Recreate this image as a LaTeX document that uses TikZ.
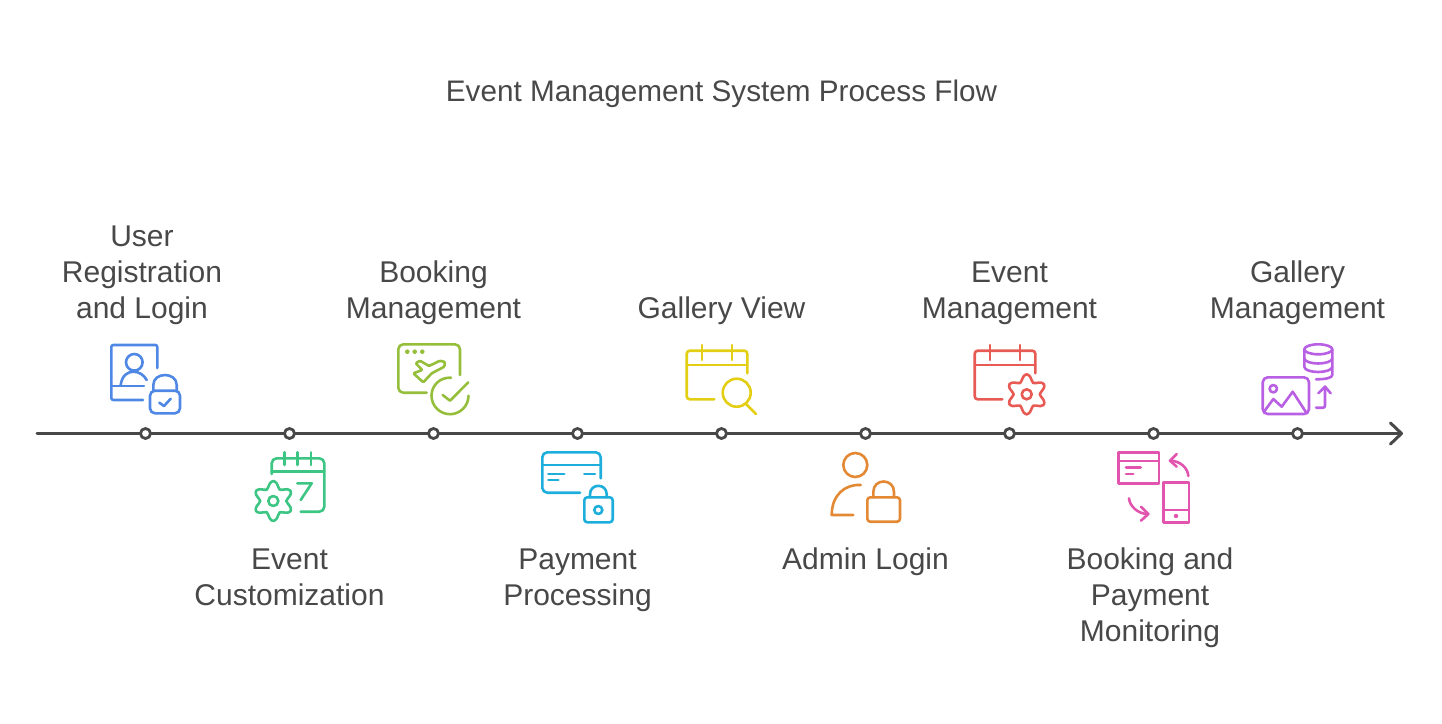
\documentclass[tikz,border=0pt]{standalone}
\usepackage{fontspec}
\setmainfont{Liberation Sans}
\usetikzlibrary{positioning,arrows.meta}
\definecolor{inkgray}{HTML}{484848}
\definecolor{iconblue}{HTML}{4F87E5}
\definecolor{icongreen}{HTML}{3CC583}
\definecolor{iconlime}{HTML}{95BF3B}
\definecolor{iconsky}{HTML}{1EAEDB}
\definecolor{iconyellow}{HTML}{E3CE14}
\definecolor{iconorange}{HTML}{E38833}
\definecolor{iconred}{HTML}{E85A54}
\definecolor{iconpink}{HTML}{E155AF}
\definecolor{iconpurple}{HTML}{B95FE3}
\tikzset{
    icon/.style={line width=2.6pt, line cap=round, line join=round, fill=none},
    calicon/.pic={
        \draw[rounded corners=3pt] (60.6,22.6) -- (60.6,0) -- (0,0) -- (0,48.6) -- (27.6,48.6);
        \draw (0,14.3) -- (60.6,14.3);
        \draw (15.3,-5.7) -- (15.3,9.3);
        \draw (45.3,-5.7) -- (45.3,9.3);
    },
    gearicon/.pic={
        \draw plot[domain=0:350, samples=36, smooth cycle] ({(16.5-3.5*cos(6*\x))*cos(\x)},{(16.5-3.5*cos(6*\x))*sin(\x)});
        \draw (0,0) circle[radius=5];
    }
}
\begin{document}
\begin{tikzpicture}[x=1pt, y=-1pt, node distance=134pt,
    dot/.style={circle, draw=inkgray, fill=white, line width=2.8pt, minimum size=10pt, inner sep=0pt, outer sep=0pt},
    steplabel/.style={text=inkgray, font=\fontsize{30}{36}\selectfont, align=center, inner sep=0pt, outer sep=0pt},
    titlelabel/.style={steplabel, font=\fontsize{29.7}{36}\selectfont},
    axisline/.style={draw=inkgray, line width=3pt, line cap=round, -{Straight Barb[length=11pt, width=21pt, line width=3pt, round]}}]

    \useasboundingbox (0,0) rectangle (1442,723);
    \node[titlelabel] (title) at (721.5,94.5) {\strut Event Management System Process Flow};

    % time line
    \coordinate (start) at (37,433.5);
    \coordinate (tip) at (1403,433.5);
    \draw[axisline] (start) -- (tip);

    \node[dot] (d1) at (145.5,433.5) {};
    \node[dot, right=of d1] (d2) {};
    \node[dot, right=of d2] (d3) {};
    \node[dot, right=of d3] (d4) {};
    \node[dot, right=of d4] (d5) {};
    \node[dot, right=of d5] (d6) {};
    \node[dot, right=of d6] (d7) {};
    \node[dot, right=of d7] (d8) {};
    \node[dot, right=of d8] (d9) {};

    % labels above and below the line
    \node[steplabel, above=99.5pt of d1, xshift=-3.5pt] (user) {User\\Registration\\and Login\strut};
    \node[steplabel, below=106pt of d2] (custom) {\strut Event\\Customization};
    \node[steplabel, above=99.5pt of d3] (booking) {Booking\\Management\strut};
    \node[steplabel, below=106pt of d4] (payment) {\strut Payment\\Processing};
    \node[steplabel, above=99.5pt of d5] (gallery) {Gallery View\strut};
    \node[steplabel, below=106pt of d6] (admin) {\strut Admin Login};
    \node[steplabel, above=99.5pt of d7] (event) {Event\\Management\strut};
    \node[steplabel, below=106pt of d8, xshift=-3.5pt] (monitor) {\strut Booking and\\Payment\\Monitoring};
    \node[steplabel, above=99.5pt of d9] (galmgmt) {Gallery\\Management\strut};

    % user and lock
    \begin{scope}[icon, draw=iconblue]
        \draw[rounded corners=2pt] (157.3,368) -- (157.3,345) -- (111.3,345) -- (111.3,400) -- (143,400);
        \draw (111.3,386) -- (144,386);
        \draw (134.3,362.3) circle[radius=8.3];
        \draw (120.7,385) .. controls (122,375) and (128,371.7) .. (133.5,371.7) .. controls (139,371.7) and (144,375) .. (146.7,380);
        \draw[rounded corners=5pt] (150,390.7) rectangle (180,413.3);
        \draw (153.3,390.7) -- (153.3,385) .. controls (153.3,371.7) and (176.7,371.7) .. (176.7,385) -- (176.7,390.7);
        \draw (159.3,402.7) -- (164,406) -- (170.7,398.7);
    \end{scope}

    % calendar with gear and seven
    \begin{scope}[icon, draw=icongreen]
        \draw[rounded corners=5pt] (271.7,474) -- (271.7,458.3) -- (324.3,458.3) -- (324.3,511.7) -- (300.7,511.7);
        \draw (271.7,471.7) -- (324.3,471.7);
        \draw (284.3,452.3) -- (284.3,465);
        \draw (297.7,452.3) -- (297.7,465);
        \draw (311,452.3) -- (311,465);
        \draw (297.3,483.3) -- (311.7,483.3) -- (300.7,500);
        \pic at (273.3,501) {gearicon};
    \end{scope}

    % window with plane and check
    \begin{scope}[icon, draw=iconlime]
        \draw[rounded corners=5pt] (460,375) -- (460,344.3) -- (398.3,344.3) -- (398.3,392.7) -- (426.7,392.7);
        \fill[iconlime] (407.3,351.7) circle[radius=2.3] (414.7,351.7) circle[radius=2.3] (422.3,351.7) circle[radius=2.3];
        \draw[rounded corners=1pt] (415.7,363.3) -- (420,360.7) -- (429,366) -- (440,360.7) -- (445,362) -- (444.3,366.7) -- (431.7,373.3) -- (423.3,382.3) -- (413.3,373.3) -- (422.3,370) -- cycle;
        \draw (451,377.7) .. controls (440,377) and (431.5,385.5) .. (431.5,395.7) .. controls (431.5,406) and (440,414.2) .. (450,414.2) .. controls (460,414.2) and (468.5,406) .. (468.5,395.7);
        \draw (442.7,395) -- (450,400.7) -- (468.3,382.3);
    \end{scope}

    % card and lock
    \begin{scope}[icon, draw=iconsky]
        \draw[rounded corners=5pt] (600.7,478.3) -- (600.7,452.3) -- (542.3,452.3) -- (542.3,492.7) -- (580,492.7);
        \draw (542.3,465) -- (600.7,465);
        \draw (548.3,474) -- (564.3,474);
        \draw (548.3,480) -- (558.3,480);
        \draw (584.3,474) -- (595,474);
        \draw[rounded corners=3pt] (584.3,497.3) rectangle (612.7,522.3);
        \draw (590,497.3) -- (590,494.3) .. controls (590,483) and (606.7,483) .. (606.7,494.3) -- (606.7,497.3);
        \draw (598.3,510) circle[radius=4];
    \end{scope}

    % calendar and magnifier
    \begin{scope}[icon, draw=iconyellow]
        \pic at (686.7,350.7) {calicon};
        \draw (736.7,392.7) circle[radius=14];
        \draw (746,404) -- (756,414);
    \end{scope}

    % person and lock
    \begin{scope}[icon, draw=iconorange]
        \draw (855.3,465) circle[radius=12];
        \draw (860.7,485) .. controls (845,484) and (831.7,495) .. (831.7,515) -- (853.3,515);
        \draw[rounded corners=3pt] (867.3,497.3) rectangle (900,521.7);
        \draw (873.3,497.3) -- (873.3,492) .. controls (873.3,478) and (894,478) .. (894,492) -- (894,497.3);
    \end{scope}

    % calendar and gear
    \begin{scope}[icon, draw=iconred]
        \pic at (974.7,350.7) {calicon};
        \pic at (1026.7,394.3) {gearicon};
    \end{scope}

    % window, phone and arrows
    \begin{scope}[icon, draw=iconpink]
        \draw (1118.3,452.3) rectangle (1159,483.3);
        \draw (1118.3,461) -- (1159,461);
        \draw (1126,467.3) -- (1140.7,467.3);
        \draw (1126,474) -- (1133.3,474);
        \draw (1163.3,482.7) rectangle (1189,522.3);
        \draw (1163.3,510) -- (1189,510);
        \fill[iconpink] (1176,516) circle[radius=2.2];
        \draw (1188.3,476) .. controls (1188,468) and (1180,461) .. (1170.7,460.7);
        \draw (1176.7,454) -- (1170,460.7) -- (1176.7,466.7);
        \draw (1129,498.3) .. controls (1129.5,506) and (1138,514) .. (1147.7,514);
        \draw (1141,506.7) -- (1148.3,514) -- (1141,520.7);
    \end{scope}

    % picture, database and arrow
    \begin{scope}[icon, draw=iconpurple]
        \draw[rounded corners=5pt] (1262.7,377.3) rectangle (1309,414);
        \draw (1273.3,388.7) circle[radius=3.7];
        \draw (1264,411.7) -- (1273.3,399) -- (1281.7,406.7) -- (1292.7,391.7) -- (1306.7,413.3);
        \draw (1318.3,349.3) ellipse[x radius=14, y radius=5];
        \draw (1304.3,349.3) -- (1304.3,366.7) .. controls (1304.3,370) and (1311,372) .. (1318.3,372) .. controls (1325,372) and (1332.3,370) .. (1332.3,366.7);
        \draw (1304.3,358.3) .. controls (1304.3,361.5) and (1311,363.5) .. (1318.3,363.5) .. controls (1325,363.5) and (1332.3,361.5) .. (1332.3,358.3);
        \draw (1332.3,349.3) -- (1332.3,375) .. controls (1332.3,378) and (1325,379.3) .. (1316,379.3);
        \draw[rounded corners=2pt] (1316,407.7) -- (1325,407.7) -- (1325,386.7);
        \draw (1318.3,393.3) -- (1325,386.7) -- (1330.7,393.3);
    \end{scope}
\end{tikzpicture}
\end{document}
